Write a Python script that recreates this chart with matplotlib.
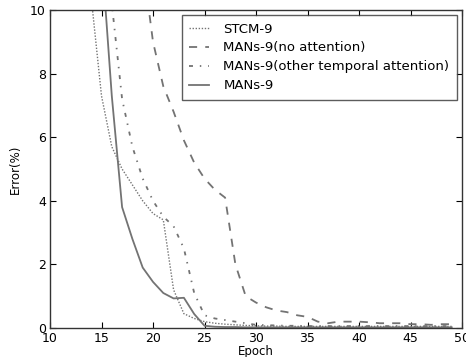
import matplotlib
matplotlib.use("Agg")
import matplotlib.pyplot as plt

epochs_stcm = list(range(13, 50))
stcm = [13.5, 10.4, 7.3, 5.7, 5.0, 4.5, 4.0, 3.6, 3.4, 1.2, 0.45, 0.3, 0.2,
        0.15, 0.12, 0.1, 0.08, 0.07, 0.06, 0.06, 0.05, 0.05, 0.05, 0.05, 0.05,
        0.05, 0.05, 0.05, 0.05, 0.05, 0.05, 0.05, 0.05, 0.05, 0.05, 0.05, 0.05]

epochs_noatt = list(range(18, 50))
noatt = [14.0, 11.5, 9.0, 7.6, 6.8, 5.9, 5.2, 4.7, 4.35, 4.1, 2.0, 1.0, 0.8,
         0.65, 0.55, 0.5, 0.4, 0.35, 0.2, 0.15, 0.2, 0.2, 0.2, 0.18, 0.15,
         0.15, 0.15, 0.12, 0.12, 0.1, 0.12, 0.12]

epochs_other = list(range(15, 50))
other = [13.5, 10.2, 7.2, 5.7, 4.7, 4.0, 3.5, 3.2, 2.5, 1.1, 0.4, 0.3, 0.25,
         0.2, 0.15, 0.1, 0.09, 0.08, 0.07, 0.07, 0.06, 0.06, 0.06, 0.06, 0.06,
         0.06, 0.06, 0.06, 0.06, 0.06, 0.06, 0.06, 0.06, 0.06, 0.06]

epochs_mans = list(range(14, 50))
mans = [16.0, 11.8, 7.3, 3.8, 2.8, 1.9, 1.45, 1.1, 0.93, 0.95, 0.44, 0.07,
        0.04, 0.03, 0.03, 0.02, 0.02, 0.02, 0.02, 0.02, 0.02, 0.02, 0.02, 0.02,
        0.02, 0.02, 0.02, 0.02, 0.02, 0.02, 0.02, 0.02, 0.02, 0.02, 0.02, 0.02]

labels = ["STCM-9", "MANs-9(no attention)",
          "MANs-9(other temporal attention)", "MANs-9"]

xticks = [10, 15, 20, 25, 30, 35, 40, 45, 50]
yticks = [0, 2, 4, 6, 8, 10]

plt.rcParams['font.family'] = ['DejaVu Sans']
fig = plt.figure(figsize=(4.66, 3.57), dpi=100)
ax = fig.add_axes([50/466, 29/357, 412/466, 318/357])

gray = '0.45'
ax.plot(epochs_stcm, stcm, color=gray, lw=1.0, linestyle=(0, (1, 1.2)), label=labels[0])
ax.plot(epochs_noatt, noatt, color=gray, lw=1.3, linestyle=(0, (4.5, 4.5)), label=labels[1])
ax.plot(epochs_other, other, color=gray, lw=1.3, linestyle=(0, (2.2, 3.8, 0.8, 3.8)), label=labels[2])
ax.plot(epochs_mans, mans, color=gray, lw=1.3, linestyle='-', label=labels[3])

ax.set_xlim(10, 50)
ax.set_ylim(0, 10)
ax.set_xticks(xticks)
ax.set_yticks(yticks)
ax.tick_params(direction='in', top=True, right=True, length=4, width=0.8,
               labelsize=9, pad=3, colors='black')
for s in ax.spines.values():
    s.set_linewidth(1.0)
    s.set_color('0.2')
ax.set_xlabel("Epoch", fontsize=8.5, labelpad=0)
ax.set_ylabel("Error(%)", fontsize=8.5, labelpad=6)

leg = ax.legend(loc='upper right', fontsize=9.5, frameon=True, fancybox=False,
                handlelength=1.5, borderpad=0.55, labelspacing=0.45,
                handletextpad=1.1, borderaxespad=0.4)
leg.get_frame().set_edgecolor('0.2')
leg.get_frame().set_linewidth(1.0)

fig.savefig("out.png", dpi=100)
